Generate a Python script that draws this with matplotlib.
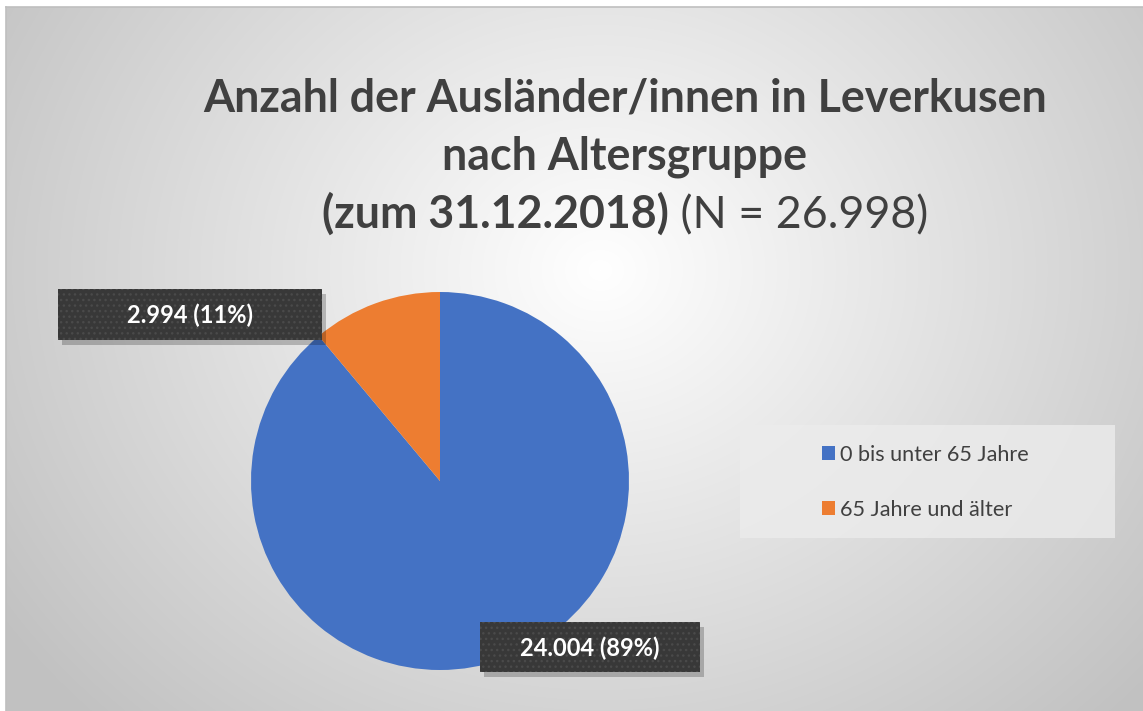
import numpy as np
import matplotlib
matplotlib.use("Agg")
import matplotlib.pyplot as plt
from matplotlib.patches import Rectangle

# data
categories = ["0 bis unter 65 Jahre", "65 Jahre und älter"]
values = [24004, 2994]
colors = ["#4472c4", "#ed7d31"]
total = sum(values)

plt.rcParams["font.family"] = ["Lato", "DejaVu Sans"]
TXT = "#404040"

W, H = 1143, 711
fig = plt.figure(figsize=(W / 100, H / 100), dpi=100)

# background canvas in pixel coordinates
bg = fig.add_axes([0, 0, 1, 1])
bg.axis("off")

# radial gradient chart area
yy, xx = np.mgrid[0:H, 0:W]
r = np.hypot(xx - 600, (yy - 270) * 1.15)
shade = 1.0 - 0.24 * np.clip(r / 720, 0, 1)
x0, y0 = 6, 7
bg.add_patch(Rectangle((0, 0), W, H, color="white", zorder=0))
bg.imshow(np.dstack([shade] * 3)[y0:, x0:], extent=(x0, W, H, y0),
          zorder=1, interpolation="bilinear", aspect="auto")
bg.plot([x0, W], [y0, y0], color="#bfbfbf", lw=1.2, zorder=2)
bg.plot([x0, x0], [y0, H], color="#bfbfbf", lw=1.2, zorder=2)
bg.set_xlim(0, W)
bg.set_ylim(H, 0)

# title
cx = 625
fs_title = 32.2
bg.text(cx, 112, "Anzahl der Ausländer/innen in Leverkusen", ha="center", va="baseline",
        fontsize=fs_title, fontweight="bold", color=TXT, zorder=5)
bg.text(cx, 170, "nach Altersgruppe", ha="center", va="baseline",
        fontsize=fs_title, fontweight="bold", color=TXT, zorder=5)
r_ = fig.canvas.get_renderer()
t1 = bg.text(0, 228, "(zum 31.12.2018)", ha="left", va="baseline",
             fontsize=fs_title, fontweight="bold", color=TXT, zorder=5)
t2 = bg.text(0, 228, " (N = 26.998)", ha="left", va="baseline",
             fontsize=fs_title, color=TXT, zorder=5)
w1 = t1.get_window_extent(r_).width
w2 = t2.get_window_extent(r_).width
start = cx - (w1 + w2) / 2
t1.set_x(start)
t2.set_x(start + w1)

# legend box
bg.add_patch(Rectangle((740, 425), 375, 113, facecolor="#ececec", alpha=0.8, lw=0, zorder=4))

# pie
pcx, pcy, rad = 440, 481, 189
ax = fig.add_axes([(pcx - rad) / W, (H - pcy - rad) / H, 2 * rad / W, 2 * rad / H])
wedges, _ = ax.pie(values, colors=colors, startangle=90, counterclock=False,
                   radius=1, wedgeprops=dict(linewidth=0))
ax.set_xlim(-1, 1)
ax.set_ylim(-1, 1)
ax.set_zorder(3)

# overlay for data labels (above the pie)
ov = fig.add_axes([0, 0, 1, 1])
ov.set_xlim(0, W)
ov.set_ylim(H, 0)
ov.axis("off")
ov.patch.set_alpha(0)
ov.set_zorder(6)

label_boxes = [(480, 622, 220, 50), (58, 289, 264, 51)]
for (bx, by, bw, bh), v in zip(label_boxes, values):
    txt = f"{v:,}".replace(",", ".") + f" ({round(100 * v / total)}%)"
    ov.add_patch(Rectangle((bx + 4, by + 5), bw, bh, color="#000000", alpha=0.22, zorder=6, lw=0))
    ov.add_patch(Rectangle((bx, by), bw, bh, facecolor="#383838", lw=0, zorder=7))
    ov.add_patch(Rectangle((bx, by), bw, bh, facecolor="none", edgecolor="#4a4a4a",
                           hatch="...", lw=0, zorder=7))
    ov.text(bx + bw / 2, by + bh / 2 + 1, txt, ha="center", va="center", fontsize=17,
            fontweight="bold", color="white", zorder=8)

# legend
leg = fig.legend(wedges, categories, loc="upper left",
                 bbox_to_anchor=(822 / W, 1 - 445 / H), frameon=False,
                 fontsize=15.6, labelcolor=TXT, handlelength=0.6, handleheight=0.6,
                 handletextpad=0.25, labelspacing=1.6, borderpad=0, borderaxespad=0)
leg.set_zorder(10)

fig.savefig("out.png", dpi=100)
